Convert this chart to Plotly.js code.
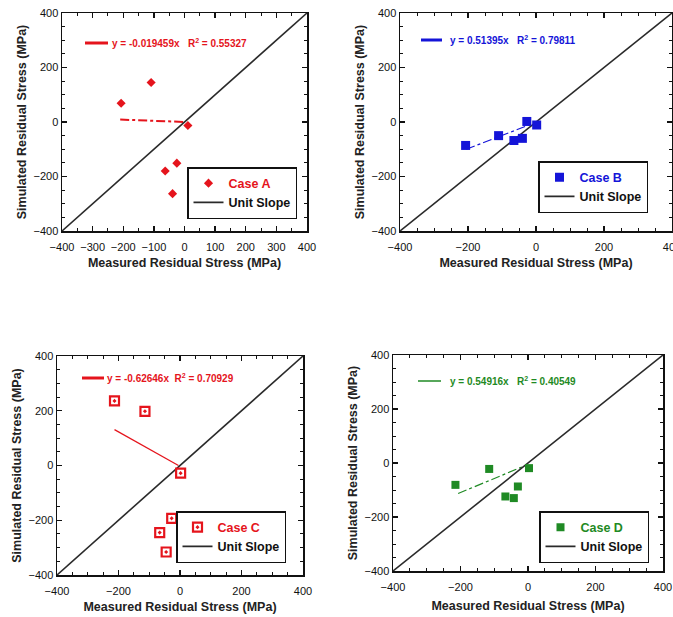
<!DOCTYPE html>
<html>
<head>
<meta charset="utf-8">
<script src="https://cdn.plot.ly/plotly-3.0.1.min.js"></script>
<style>
  html, body { margin: 0; padding: 0; background: #fff; }
  #chart { width: 673px; height: 617px; }
</style>
</head>
<body>
<div id="chart"></div>
<script>
// Measured vs simulated residual stress (MPa) for four modelling cases
const caseA_x = [-109, -207, 11, -63, -25, -39];
const caseA_y = [145, 69, -13, -180, -151, -263];
const fitA_x = [-210, 5];
const fitA_y = [9, 0];

const caseB_x = [-207, -110, -65, -40, -27, 2];
const caseB_y = [-86, -50, -68, -60, 2, -11];
const fitB_x = [-205, -8];
const fitB_y = [-100, -5];

const caseC_x = [-213, -114, 2, -27, -66, -45];
const caseC_y = [236, 198, -28, -193, -245, -316];
const fitC_x = [-213, -5];
const fitC_y = [131, 0];

const caseD_x = [-215, -115, -67, -42, -30, 3];
const caseD_y = [-81, -22, -124, -130, -87, -19];
const fitD_x = [-207, -5];
const fitD_y = [-113, -8];

const unitX = [-400, 400];
const unitY = [-400, 400];

const caseNames = ['Case A', 'Case B', 'Case C', 'Case D'];
const equations = [
  'y = -0.019459x   R<sup>2</sup> = 0.55327',
  'y = 0.51395x   R<sup>2</sup> = 0.79811',
  'y = -0.62646x  R<sup>2</sup> = 0.70929',
  'y = 0.54916x   R<sup>2</sup> = 0.40549'
];
const xTitle = 'Measured Residual Stress (MPa)';
const yTitle = 'Simulated Residual Stress (MPa)';

const RED = '#e5141c', BLUE = '#1414d8', GREEN = '#1f8a24';
const FONT = 'Liberation Sans, Arial, sans-serif';
const W = 673, H = 617;

// Plot-area boxes in pixels: [left, right, top, bottom]
const boxes = [
  [62, 307, 13, 231],
  [400, 672, 13, 231],
  [57, 303, 356, 575],
  [393, 663, 355, 571]
];

const panels = [
  {cx: caseA_x, cy: caseA_y, fx: fitA_x, fy: fitA_y, color: RED,
   marker: {symbol: 'diamond', size: 7, color: RED},
   fitLine: {color: RED, width: 2, dash: 'dashdot'}, xdtick: 100, xstand: 6, ystand: 4},
  {cx: caseB_x, cy: caseB_y, fx: fitB_x, fy: fitB_y, color: BLUE,
   marker: {symbol: 'square', size: 9, color: BLUE},
   fitLine: {color: BLUE, width: 1.2, dash: 'dashdot'}, xdtick: 200, xstand: 6, ystand: 4},
  {cx: caseC_x, cy: caseC_y, fx: fitC_x, fy: fitC_y, color: RED,
   marker: {symbol: 'square-open-dot', size: 9, color: RED, line: {width: 2.2, color: RED}},
   fitLine: {color: RED, width: 1.2, dash: 'solid'}, xdtick: 200, xstand: 6, ystand: 4},
  {cx: caseD_x, cy: caseD_y, fx: fitD_x, fy: fitD_y, color: GREEN,
   marker: {symbol: 'square', size: 8, color: GREEN},
   fitLine: {color: GREEN, width: 1.2, dash: 'dashdot'}, xdtick: 200, xstand: 9, ystand: 4}
];

// Legend boxes (pixels): [right, bottom]
const legendPos = [[297, 219], [648, 213], [286, 563], [649, 563]];
// Equation key: [segment x0, segment x1, y, text x]
const eqPos = [[85, 108, 43, 110], [421, 442, 40, 448], [82, 104, 378, 105], [418, 441, 381, 448]];

const traces = [];
const layout = {
  width: W, height: H,
  margin: {l: 0, r: 0, t: 0, b: 0},
  paper_bgcolor: '#fff', plot_bgcolor: '#fff',
  font: {family: FONT, color: '#111'},
  showlegend: true,
  annotations: [], shapes: []
};

panels.forEach((p, i) => {
  const n = i + 1;
  const xa = n === 1 ? 'x' : 'x' + n;
  const ya = n === 1 ? 'y' : 'y' + n;
  const lg = n === 1 ? 'legend' : 'legend' + n;
  const b = boxes[i];

  traces.push({
    x: p.fx, y: p.fy, xaxis: xa, yaxis: ya, type: 'scatter', mode: 'lines',
    line: p.fitLine, showlegend: false, hoverinfo: 'skip'
  });
  traces.push({
    x: unitX, y: unitY, xaxis: xa, yaxis: ya, type: 'scatter', mode: 'lines',
    name: 'Unit Slope', legend: lg, legendrank: 2,
    line: {color: '#2a2a2a', width: 1.6}
  });
  traces.push({
    x: p.cx, y: p.cy, xaxis: xa, yaxis: ya, type: 'scatter', mode: 'markers',
    name: '<span style="color:' + p.color + '">' + caseNames[i] + '</span>',
    legend: lg, legendrank: 1, marker: p.marker
  });

  const common = {
    range: [-400, 400], autorange: false, showgrid: false, zeroline: false,
    showline: true, linecolor: '#111', linewidth: 1.5, mirror: 'allticks',
    ticks: 'inside', ticklen: 5, tickwidth: 1.4, tickcolor: '#111',
    minor: {ticks: 'inside', ticklen: 3, tickwidth: 1, dtick: 50, tickcolor: '#111'},
    tickfont: {family: FONT, size: 11, color: '#111'},
    fixedrange: true
  };
  layout[n === 1 ? 'xaxis' : 'xaxis' + n] = Object.assign({}, common, {
    domain: [b[0] / W, b[1] / W], anchor: ya, dtick: p.xdtick, tick0: 0,
    ticklabelstandoff: 5, ticklabeloverflow: 'allow',
    title: {text: xTitle, font: {family: FONT, size: 12.5, color: '#222', weight: 'bold'}, standoff: p.xstand}
  });
  layout[n === 1 ? 'yaxis' : 'yaxis' + n] = Object.assign({}, common, {
    domain: [1 - b[3] / H, 1 - b[2] / H], anchor: xa, dtick: 200, tick0: 0,
    title: {text: yTitle, font: {family: FONT, size: 12.5, color: '#222', weight: 'bold'}, standoff: p.ystand}
  });

  const lp = legendPos[i];
  layout[lg] = {
    x: lp[0] / W, y: 1 - lp[1] / H, xanchor: 'right', yanchor: 'bottom',
    bgcolor: '#fff', bordercolor: '#111', borderwidth: 1.5,
    font: {family: FONT, size: 12.5, color: '#111', weight: 'bold'},
    tracegroupgap: 0, itemwidth: 30, traceorder: 'normal'
  };

  const e = eqPos[i];
  layout.shapes.push({
    type: 'line', xref: 'paper', yref: 'paper',
    x0: e[0] / W, x1: e[1] / W, y0: 1 - e[2] / H, y1: 1 - e[2] / H,
    line: {color: p.color, width: i === 3 ? 1.5 : 3}
  });
  layout.annotations.push({
    xref: 'paper', yref: 'paper', x: e[3] / W, y: 1 - e[2] / H,
    xanchor: 'left', yanchor: 'middle', showarrow: false,
    text: equations[i],
    font: {family: 'Liberation Sans Narrow, Arial Narrow, sans-serif', size: 10, color: p.color, weight: 'bold'}
  });
});

Plotly.newPlot('chart', traces, layout, {staticPlot: true});
</script>
</body>
</html>
